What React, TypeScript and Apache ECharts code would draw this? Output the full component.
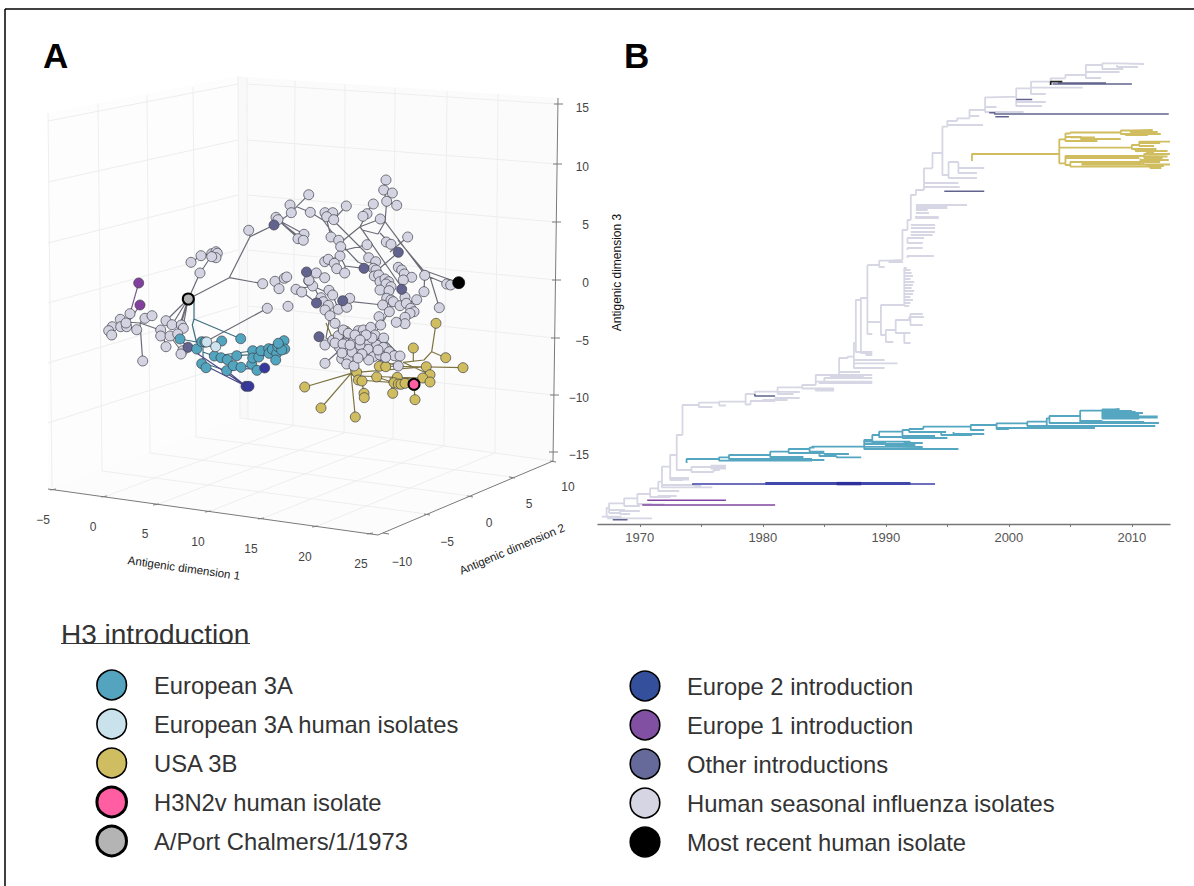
import React, { useEffect, useRef } from "react";
import * as echarts from "echarts";

type P = number[];
const FONT = '"Liberation Sans", Arial, sans-serif';

// ---- Panel A: isolates on the projected picture plane ----
const humanNodes: P[] = [
  [130,313.7],[120.3,319.3],[112.3,326.7],[108.7,330.7],[111.7,335],[120.7,326.7],[126.7,326.7],[126,323],[136.7,329.7],[145,318.3],[152,315.7],[142.7,361],
  [166,320.7],[160.7,330],[160.7,336],[170,336],[172,324.7],[181.3,325],[183.3,328.3],[177.7,334],[166,346.7],[182.7,350.7],[181,354],
  [200,273],[191,262.3],[201,255.7],[211.7,253.7],[216,251.7],[217.3,253.3],[216,257.7],[211.7,256.7],[262.7,283.7],[267.3,308.3],[248.7,230.3],
  [276,217.3],[278,219.7],[290,205],[291.3,212.7],[308.7,194.7],[310.3,212.3],[304,234.3],[298,238.7],[303.3,240.3],
  [316.3,273],[275,281.3],[279,288.7],[284.3,278.3],[286.7,277],[296,289.3],[301.7,292],[308.7,280.7],[312.7,286],[288,306.3],
  [346.3,206],[325,212.7],[332.7,212.7],[326.7,216.7],[333.7,219.7],[331,237],[338.7,240.3],[340.7,246.7],
  [373.3,204],[367,213.7],[363,216.3],[380.3,219],[386,180],[383.7,190],[392.3,193],[386.7,201.3],[396.7,205.3],
  [407.7,237],[386.3,242],[391,244.3],[367,244.7],[340,256],[324.7,261.7],[328.3,259.3],[334.3,263.3],[336.7,268.7],[344.7,273],
  [368.7,257.7],[375.7,261.7],[373.3,268.3],[376,270],[374.3,276],[398.3,267.3],[401.7,270],[404.3,274],[411.7,277.3],[403.3,280],
  [378.7,275],[380,281.7],[385,279],[388.7,281.7],[386,284],[391,286.7],[380,290],[389,290.7],
  [424.7,275.3],[446.7,284],[450.7,285],[424,291.7],[439.3,307.7],
  [386.7,298.3],[391,300],[382.7,305],[393.3,301.7],[400,305.7],[405,297.3],[406.3,303.3],[416.7,299.7],[410.7,308.3],[414,311.7],[410,313.3],[405,317.3],[405,323.7],[396.3,322.3],[389.3,311.7],[379,316.7],[380.7,325],
  [324.7,277.7],[309,280.3],[329,290.3],[332.7,295],[321,297.7],[323.3,301.7],[328.3,305.3],[325,310],[338.3,309.3],[346.7,307.3],[349.7,298.3],[330,315.7],[335,323.3],
  [325,345],[332.7,340.3],[338.3,335.7],[343.3,330],[351.7,338.3],[358.3,330.7],[363.3,330],[370.7,327.3],[375,335],[383.7,338],[367.3,343.3],[376.7,345],[383.3,347.3],[339.3,347.3],[347.3,350.7],[356.7,347.7],[368.3,349.3],
  [341.7,358.7],[348.3,358.3],[373.3,356.7],[368.7,360],[380,355],[389.3,351.7],[394.3,355.7],[400,356],[385.7,357.3],[325,363.3],[346.7,364],[354,366],[398.3,366],[345,343],[353.3,341.7],[361.7,336.7],[348.3,333.3],
  [335,343],[343,344],[352,352],[360,345],[362,354],[358,358],[355,335],[372,338],[342,353],[350,345],[366,335],[360,340],[378,350],
];
const otherNodes: P[] = [[274,225],[306.5,272],[316.5,303],[319,336.7],[398.3,252.3],[364,268.3],[401.7,289.3],[342.7,300.7],[188,347.3]];
const usaNodes: P[] = [
  [346,331.3],[368.3,337.3],[436,323.3],[413.3,348],[445.7,357.7],[463,367.7],[426.3,366.7],[430,374.7],[422.7,378],[430,382],[379.3,366.3],[385.7,366.7],[356.7,372.3],[358.3,380],[362,381],[376.7,377],
  [397.3,377.3],[394,382.7],[398.3,384],[401,384.3],[405,383.3],[392.7,393.3],[415,399.7],[364,393.3],[364.3,397.7],[304.7,387],[321,408],[355.3,417],
];
const euro3aNodes: P[] = [
  [180,339],[196.7,349],[201.7,341.7],[205,342],[221.7,341],[240.7,338.7],[201.7,363.7],[206,367.7],[226.7,370.7],[214.3,356],[221,357.7],[227.3,359.7],[233.3,365.7],[241,367.3],[236.7,355.7],[251.7,364.3],[257,370.3],
  [252.7,350.7],[252.7,358],[258.7,357],[261,350.7],[268.7,348.7],[269,353.3],[272.3,349.3],[276.7,353.3],[277.7,346.7],[280.7,345],[284,340.7],[284.7,349],[281.7,350],[275.7,360],[278.3,343.3],
];
const euro3aHumanNodes: P[] = [[206.7,342],[215.7,346.7]];
const europe2Nodes: P[] = [[264.7,368],[246,386.3],[249,386.3]];
const europe1Nodes: P[] = [[138.7,283],[140,305]];
const portChalmers: P[] = [[188.3,299]];
const mostRecent: P[] = [[458.7,282.7]];
const h3n2v: P[] = [[414,384.3]];

const humanEdges: P[][] = [
  [[188.3,299],[229.3,277.7],[250,236.7],[274,225]],[[250,236.7],[248.7,230.3]],[[229.3,277.7],[262.7,283.7]],[[188.3,299],[200,273],[210,258],[213,254]],[[201,255.7],[191,262.3]],[[201,255.7],[212,254]],
  [[188,299],[166,320.7]],[[188,299],[172,325]],[[188,299],[181,325]],[[188,299],[183,328]],[[188,299],[177,334]],[[267.3,308.3],[205,342]],[[160,330],[170,336],[182,352]],
  [[140,323],[160,330]],[[140,323],[142.7,361]],[[126,322],[140,323],[145,318]],[[145,318],[152,316]],[[130,314],[126,325]],[[120,326],[126,325],[136,330]],[[112,327],[126,325]],[[108.7,330.7],[112,327]],[[111.7,335],[112,327]],[[166,347],[163,335]],[[182,352],[188,347]],
  [[274,225],[279,220]],[[278,220],[298,238]],[[278,220],[304,234]],[[278,220],[303,240]],[[274,225],[291,213]],[[291,213],[290,205]],[[291,213],[296.7,206.7]],[[296.7,206.7],[308.7,194.7]],[[296.7,206.7],[310.3,212.3]],[[310.3,212.3],[323,220],[340,243],[358,262],[376,270]],
  [[333,220],[373,260]],[[325,212.7],[331,237]],[[360,226.7],[400,285]],[[385,221.7],[386.7,201.3]],[[386.7,201.3],[383.7,190]],[[383.7,190],[386,180]],[[386.7,201.3],[392.3,193]],[[386.7,201.3],[396.7,205.3]],
  [[385,221.7],[380.3,219]],[[385,221.7],[425,275],[446.7,284]],[[398,240],[423,270],[458.7,282.7]],[[385,221.7],[378,234],[362,230],[360,226.7],[380.3,219]],[[360,226.7],[340,243],[340,256]],[[333.7,219.7],[346.3,206]],[[367,213.7],[360,226.7]],[[373.3,204],[363,216.3]],
  [[345,250],[367,244.7]],[[380,233],[391,244.3]],[[398.3,252.3],[380,268]],[[407.7,237],[390,252]],[[342.7,300.7],[382.7,305]],[[364,268.3],[345,266]],[[345,266],[344.7,273]],[[340,256],[345,266]],[[340,256],[324.7,261.7]],[[334,263],[336.7,268.7]],
  [[430,277],[439.3,307.7]],[[424.7,275.3],[424,291.7]],[[306.3,272],[312.7,286],[332.7,295],[338.3,309.3]],[[312.7,286],[296,289.3]],[[302,291.7],[316.7,303]],[[312,282],[325,310]],[[325,310],[335,323.3],[345,340]],[[330,315.7],[326,338],[338,345]],[[338,309],[346.7,307.3]],[[342.7,300.7],[349.7,298.3]],
  [[380,281.7],[391,286.7],[386.7,298.3],[382.7,305]],[[391,300],[389.3,311.7],[380.7,325],[370,340]],[[400,305.7],[410.7,308.3]],[[405,317.3],[414,311.7]],[[396.3,322.3],[405,313]],[[400,305.7],[416.7,299.7]],
  [[325,345],[340,335]],[[325,363.3],[340,350]],[[340,335],[370,327]],[[338,345],[385,357]],[[347,350],[398,366]],[[354,366],[360,345]],[[346,364],[352,340]],[[368,360],[378,338]],[[395,355],[370,340]],[[400,356],[383,338]],
];
const euro3aEdges: P[][] = [
  [[194,298],[194,319],[192.3,325],[196.7,343]],[[194,319],[240.7,338.7]],[[180,339],[196.7,342],[205,342]],[[203,347],[203,363]],[[203,347],[221.7,345],[221.7,341]],[[203,352],[214,356],[252,351]],[[203,363],[226.7,370.7]],[[214,356],[241,367]],[[227,360],[257,370]],[[236.7,355.7],[276,353]],[[252,351],[284,341]],[[258,357],[284.7,349]],[[251,364],[252,351]],
];
const usaEdges: P[][] = [
  [[351,373.3],[304.7,387]],[[351,373.3],[321,408]],[[351,373.3],[355.3,417]],[[351,373.3],[358.3,380]],[[346,331.3],[351,373.3]],[[326,323],[332,337]],
  [[356.7,372.3],[426.3,366.7]],[[379,366],[463,367.7]],[[356.7,376],[422.7,378]],[[358.3,380],[405,383.3]],[[403,362.3],[424,360],[431.7,351.7],[436,323.3]],[[431.7,351.7],[445.7,357.7]],[[413.3,348],[413.3,361]],[[403,362.3],[430,374.7]],[[402,362],[379,366]],
  [[362,381],[364,393.3]],[[362,381],[364.3,397.7]],[[414,384.3],[415,399.7]],[[392.7,393.3],[390,377]],[[376.7,377],[398,384]],[[397,377],[430,382]],
];
const europe2Edges: P[][] = [[[188,347.3],[246,386.3]],[[201.7,363.7],[246,386.3]],[[226.7,370.7],[246,386.3]],[[226.7,370.7],[243,369],[264.7,368]],[[180,339],[188,347.3]]];
const europe1Edges: P[][] = [[[138.7,283],[130,313.7]],[[140,305],[130,320]]];

// ---- Panel A: the drawn box, same plane ----
const wallRules: P[][] = [
  [[48,121],[238,84]],[[48,182],[238,140]],[[48,243],[238,195]],[[48,303],[238,250]],[[48,363],[238,306]],[[48,423],[238,362]],
  [[48,113],[52,487]],[[98,103],[102,471]],[[147,95],[150,453]],[[193,87],[196,437]],[[238,77],[240,418]],[[247,78],[248,420]],
  [[247,84],[557,104]],[[247,140],[557,164]],[[247,195],[556,222]],[[247,250],[556,280]],[[247,306],[555,338]],[[247,362],[554,395]],
  [[295,81],[293,426]],[[345,84],[344,433]],[[395,88],[393,439]],[[447,91],[444,446]],[[498,94],[495,453]],
  [[104,497],[293,426]],[[156,505],[344,433]],[[208,512],[393,439]],[[261,519],[444,446]],[[315,527],[495,453]],
  [[427,514],[102,471]],[[470,496],[150,453]],[[512,477],[196,437]],[[240,418],[553,461]],
];
const axisRules: P[][] = [
  [[48,489],[378,535]],[[378,535],[553,461]],[[558,98],[553,461]],
  [[50,490],[56,489]],[[101,497],[107,496]],[[153,505],[159,504]],[[205,512],[211,511]],[[258,519],[264,518]],[[312,527],[318,526]],[[367,534],[373,533]],
  [[383,533],[389,534]],[[424,514],[430,515]],[[467,496],[473,497]],[[509,477],[515,478]],[[550,461],[556,462]],
  [[554,104],[563,104]],[[553,164],[562,164]],[[552,222],[561,222]],[[552,280],[561,280]],[[551,338],[560,338]],[[550,395],[559,395]],[[549,452],[558,452]],
];
const dim1Labels = ["\u22125","0","5","10","15","20","25"];
const dim2Labels = ["\u221210","\u22125","0","5","10"];
const dim3Labels = ["15","10","5","0","\u22125","\u221210","\u221215"];

// ---- Panel B: [parent year, parent rank, rank, end year] ----
const humanTree: P[] = [
  [1966.9,516.7,516.7,1968.5],[1967.4,517,518.3,1971],[1967.3,517,508,1967.5],[1967.5,508,503.3,1968.73],[1967.5,508,510,1968.8],[1967.5,508,513,1968.4],[1968.4,513,511,1970],[1968.4,513,514,1969.2],[1968.73,503.3,506,1970],[1968.73,503.3,498.3,1969.8],
  [1969.8,498.3,504,1971],[1969.8,504,504.5,1972],[1969.8,498.3,494,1970.84],[1970.84,494,488.3,1971.5],[1970.84,494,497,1972.5],[1971.5,497,496,1973],[1971.5,488.3,481.7,1971.8],[1971.5,488.3,491,1973.2],[1971.8,484,487.3,1975.9],[1974.5,485,486,1975],
  [1971.8,481.7,466.7,1972.47],[1971.8,481.7,485,1974.5],[1972.47,466.7,480,1973.5],[1972.47,478,478,1974],[1972.47,479.5,479.5,1974],[1972.47,466.7,455,1973],[1973,455,435,1973.47],[1973,455,470,1974.2],[1974.2,470,467,1976],[1974.2,470,472,1976],
  [1975.8,467,465.7,1977],[1975.8,467,467,1977],[1975.8,467,468.5,1977],[1976,472,470,1976.5],[1973.47,435,405,1973.69],[1973.69,405,405,1974.8],[1974.8,405,407,1975.9],[1974.8,405,402.7,1976.45],[1976.45,402.7,405.5,1977],[1976.45,402.7,401.7,1978.6],[1978.6,401.7,404.5,1979],[1978.6,401.7,394,1979.35],
  [1979.35,394,391.7,1981.2],[1979,404.5,401,1981],[1980,401,400,1982],[1981,401,398,1983],[1981.2,391.7,394,1982.5],[1981.2,391.7,392,1983],[1981.2,391.7,387.3,1983.2],[1983.2,387.3,388.5,1985.8],[1984.3,388,390.5,1985.8],[1983.2,387.3,385,1984.3],[1984.3,385,375,1986.2],
  [1984.3,385,381.7,1988.9],[1985,382,378,1988.9],[1985.5,378,377,1988.2],[1986.2,375,375,1988.9],[1986.2,375,372,1987.9],[1984.6,382,383,1988.9],[1986.2,376,358,1986.9],[1986.9,358,356.7,1987.4],[1987.4,356.7,363.3,1990.95],[1987.4,356.7,368,1989.9],[1987.4,356.7,360,1989.9],
  [1987.4,356.7,343,1987.56],[1987.56,343,352,1988.9],[1988.4,352,355,1988.9],[1987.56,343,300,1987.97],[1987.97,300,298,1988.5],[1987.97,300,353,1988.9],[1988.5,298,265,1988.5],[1988.5,265,265,1989.46],[1988.5,298,334,1988.9],[1989.46,265,267,1989.9],[1989.46,265,260.7,1990.27],[1990.27,260.7,262,1991.4],[1990.27,260.7,260,1991.35],
  [1988.5,298,322,1989.6],[1989.6,322,305,1991.08],[1989.6,322,335,1990],[1990,335,342,1990.6],[1990,335,330,1990.8],[1990.8,330,320,1992],[1990.8,330,333,1992],[1991.5,333,343,1992],[1991.9,320,317,1993.1],[1992,320,314,1993],[1992,320,325,1993],
  [1991.08,305,305,1991.5],[1991.5,305,268,1991.7],[1991.5,270,270,1992],[1991.5,273,273,1992.1],[1991.5,276,276,1992.2],[1991.5,279,279,1992],[1991.5,282,282,1992.3],[1991.5,285,285,1992.2],[1991.5,288,288,1992.1],[1991.5,291,291,1992.3],[1991.5,294,294,1992.2],[1991.5,297,297,1992],[1991.5,300,300,1992.2],[1991.5,303,303,1992],[1991.5,306,306,1991.9],
  [1991.35,260,230,1991.76],[1991.76,258,256,1993.9],[1991.76,250,248,1993],[1991.76,242,238,1993.1],[1991.76,240,243,1993],[1991.76,230,220,1992.03],[1992.03,220,195,1992.44],[1992.03,225,225,1994],[1992.03,228,228,1994],[1992.03,232,232,1994],[1992.03,235,235,1993.8],[1992.44,217,217,1994.3],[1992.44,213,213,1993.5],[1992.44,210,210,1993.4],[1992.44,208,208,1995],[1992.44,206,206,1995],
  [1992.44,195,190,1993.1],[1993.1,190,168.3,1993.79],[1993.79,168.3,153,1994.6],[1994.6,153,126.7,1995],[1995,126.7,121,1995.8],[1994.6,153,175,1995.1],[1995.1,175,178,1997.4],[1995.1,175,162,1995.9],[1995.9,162,168,1996.9],[1996.9,168,168,1998],[1995.9,168,173,1997.4],[1993.1,190,187,1996],[1993.1,185,183,1995.9],[1992.44,205,205,1996.6],[1992.44,208,208,1994.9],[1992.44,216,218,1994.3],
  [1995,126.7,125,1997.9],[1995.8,121,118.3,1996.8],[1996.8,118.3,116,1997.6],[1996.8,118.3,110,1998.07],[1998.07,110,112,2001.2],[1998.07,107,107,1999],[1998.07,110,97.3,1998.45],[1998.45,97.3,96.7,2000.6],[2000.6,96.7,102,2003],[2000.6,96.7,106,2002.7],[2000.6,96.7,88.3,2001.8],[2001.8,88.3,94,2003],[2001.8,88.3,81.7,2003.4],[2001.8,85,87.7,2006],[2003.4,81.7,78.3,2004.6],[2004.6,78.3,75,2006.26],[2006.26,75,78,2007.5],[2006.26,75,65,2007.6],[2007.6,65,63.3,2008.8],[2008.8,63.3,64,2011],[2008.8,65,67,2010.5],[2007.6,65,69,2009.3],[2006.26,72,72,2009],
];
const usaTree: P[] = [
  [1997,161,154,2004.1],[2004.1,154,139.3,2004.6],[2004.6,139.3,133.5,2005],[2005,133.5,132.5,2009.1],[2009.1,132.5,130.5,2010],[2010,130.5,130,2011.7],[2009.9,131,132,2012.1],[2009.1,132.5,134,2012.35],[2009.5,133,135,2011.3],[2004.6,139.3,137,2005.9],[2005,136.5,137.3,2007],[2005.85,137.3,139,2009.1],[2004.6,139.3,141,2007.2],
  [2004.1,154,147.7,2010],[2010,147.7,145,2010.6],[2010.6,145,141.7,2013.1],[2010.6,145,143,2012.3],[2010.6,145,146,2011.8],[2010,147.7,149,2012],[2010.3,149,151,2012.9],[2011.2,150,152.5,2011.8],[2004.1,154,163.3,2004.6],[2004.6,163.3,156,2011],[2004.6,158,158,2010.6],[2005,165,166.7,2011.5],[2005,165,162,2011],[2004.6,163.3,165,2005],
  [2011,156,154,2013.1],[2011,156,156.5,2012.9],[2011,156,158,2012.5],[2010.7,158.5,160,2013],[2010.7,160,162,2012.3],[2010.9,162,164.5,2013.1],[2011.2,164,166,2012.6],[2011.5,166.7,168,2012.4],[2005.9,163,163,2010.8],[2005.9,164.5,164.5,2011],
];
const euro3aTree: P[] = [
  [1973.8,463,459,1976.45],[1976.45,459,457.3,1977.25],[1976.45,459,460.7,1984],[1977.25,457.3,455,1980.6],[1977.25,457.3,459,1983.5],[1980.6,455,451.7,1982.1],[1980.6,455,457,1983.3],[1982.1,451.7,449,1983.8],[1982.1,451.7,453,1985],[1983.8,449,447.7,1984.2],[1983.8,449,451.7,1985],[1984,447.7,446.7,1988.24],[1984.6,452,456,1986],[1985,453,454,1987],[1986,456,457.3,1988],[1982.5,459,459,1984],[1982.5,459,460,1985],
  [1988.24,446.7,440,1988.9],[1988.9,440,435,1989.45],[1988.9,440,443,1990],[1989.45,435,437,1991.3],[1989.45,435,431.7,1991.35],[1991.35,431.7,436,1991.4],[1991.35,431.7,430,1991.9],[1991.9,430,429,1993.05],[1991.9,430,432,1994.9],[1993.05,429,426.7,1996.9],[1991.35,435,436,1994],[1991.35,436,438,1995],[1994.5,432,435,1997],[1995.5,432,434,1998],[1996.9,426.7,430,1998],
  [1988.24,446.7,441.7,1992],[1988.24,446.7,444,1991.5],[1988.24,446.7,447,1993],[1988.24,446.7,449,1995.9],[1990,447,445,1992.4],[1993,449,449,1995],[1991.5,444,443,1993],
  [1996.9,426.7,425,1999],[1999,425,423.3,2001.5],[1999,425,429,2000],[1999,425,428,2007],[2001.5,423.3,421.7,2003.08],[2001.5,423.3,426,2011.9],[2003.08,421.7,418.3,2003.3],[2003.08,421.7,426,2005],[2003.3,418.3,416,2005.8],[2003.3,418.3,423,2012.2],[2005.8,416,421,2007.6],[2005.8,416,410.7,2007.6],[2005.8,416,423,2007.5],
  [2007.6,410.7,409.3,2008.56],[2007.6,410.7,417.5,2012.1],[2008.56,409.3,409,2009],[2007.6,410.7,411,2010],[2007.6,410.7,412,2010.3],[2007.6,410.7,413,2010.9],[2007.6,410.7,414,2010.5],[2007.6,410.7,415,2010.6],[2007.6,410.7,416.5,2012.1],[2007.6,410.7,418.5,2010.6],[2007.6,421,422,2011],
];
const europe2Thin: P[] = [[1974.25,484,484,1994]];
const europe2Thick: P[] = [[1980.2,483.6,483.6,1992]];
const europe2Dark: P[] = [[1986,483.6,483.6,1988]];
const europe1Tree: P[] = [[1970.6,500.3,500.3,1977],[1970.2,505,505,1981]];
const otherTree: P[] = [[1967.8,519.7,519.7,1969],[1979.35,394,396,1981],[1994.75,191.3,191.3,1998],[1998.8,114,114,2013],[1998.9,116.7,116.7,2000],[1998.4,112.7,112.7,1998.9],[2000.6,99.5,99.5,2001.9],[2003.55,84,84,2010],[2004,83,83,2007.9]];
const blackTree: P[] = [[2003.4,85,81.7,2004.35]];
const yearLabels = [1970,1980,1990,2000,2010];
const yearTicks = [1970,1975,1980,1985,1990,1995,2000,2005,2010];

// ---- Legend ----
const legendLeft = ["European 3A","European 3A human isolates","USA 3B","H3N2v human isolate","A/Port Chalmers/1/1973"];
const legendRight = ["Europe 2 introduction","Europe 1 introduction","Other introductions","Human seasonal influenza isolates","Most recent human isolate"];
const legendLeftColors = ["#54a4bf","#c9e2ec","#cfbd62","#ff5fa2","#b4b4b4"];
const legendRightColors = ["#34509c","#8150a3","#666a9a","#d5d5e3","#000000"];

const edgeData = (lines: P[][]) => { const out: any[] = []; lines.forEach((l) => { l.forEach((p) => out.push(p)); out.push(["-","-"]); }); return out; };
const treeData = (rows: P[]) => { const out: any[] = []; rows.forEach(([py, pr, r, ey]) => { out.push([py, pr],[py, r],[ey, r],["-","-"]); }); return out; };

export default function App() {
  const ref = useRef<HTMLDivElement>(null);
  useEffect(() => {
    const chart = echarts.init(ref.current!, undefined, { renderer: "svg" });
    const edge = (name: string, lines: P[][], color: string, width = 1.2, z = 3) => ({ name, type: "line", xAxisIndex: 0, yAxisIndex: 0, data: edgeData(lines), symbol: "none", connectNulls: false, clip: false, silent: true, z, lineStyle: { color, width } });
    const nodes = (name: string, d: P[], color: string, size = 10, bw = 0.7, bc = "#3c3c46", z = 5) => ({ name, type: "scatter", xAxisIndex: 0, yAxisIndex: 0, data: d, symbolSize: size, clip: false, silent: true, z, itemStyle: { color, borderColor: bc, borderWidth: bw, opacity: 1 } });
    const tree = (name: string, rows: P[], color: string, width = 1.8, z = 3) => ({ name, type: "line", xAxisIndex: 1, yAxisIndex: 1, data: treeData(rows), symbol: "none", connectNulls: false, silent: true, z, lineStyle: { color, width } });
    const txt = (text: string, x: number, y: number, size: number, fill: string, extra: any = {}) => ({ type: "text", x, y, silent: true, ...extra, style: { text, fill, font: `${extra.weight || "normal"} ${size}px ${FONT}`, textAlign: extra.align || "left", textVerticalAlign: "middle" } });
    const poly = (points: number[][], fill: string) => ({ type: "polygon", silent: true, shape: { points }, style: { fill } });
    const dim1Pos = [[43,520],[93,527],[145,534],[198,542],[251,549],[305,557],[361,564]];
    const dim2Pos = [[402,562],[447,542],[489,523],[529,504],[568,487]];
    const dim3Y = [108,167,225,283,341,398,455];
    const graphics: any[] = [
      poly([[48,113],[238,76],[240,418],[48,489]],"#fdfdfd"),
      poly([[238,76],[247,77],[248,420],[240,418]],"#f9f9f9"),
      poly([[247,77],[557,98],[553,461],[248,420]],"#fbfbfb"),
      poly([[48,489],[240,418],[553,461],[378,535]],"#fcfcfc"),
      { type: "line", silent: true, shape: { x1: 5, y1: 9, x2: 1194, y2: 9 }, style: { stroke: "#000", lineWidth: 1.5 } },
      { type: "line", silent: true, shape: { x1: 5, y1: 9, x2: 5, y2: 886 }, style: { stroke: "#000", lineWidth: 1.5 } },
      txt("A", 43, 55, 35, "#000", { weight: "bold" }),
      txt("B", 624, 55, 35, "#000", { weight: "bold" }),
      txt("Antigenic dimension 1", 184, 568, 11.6, "#1a1a1a", { align: "center", rotation: -0.14 }),
      txt("Antigenic dimension 2", 512, 549, 11.6, "#1a1a1a", { align: "center", rotation: 0.4 }),
      txt("Antigenic dimension 3", 617, 272.5, 12, "#111", { align: "center", rotation: Math.PI / 2 }),
      txt("H3 introduction", 61, 634, 28, "#333"),
      { type: "line", silent: true, shape: { x1: 61, y1: 643.5, x2: 250, y2: 643.5 }, style: { stroke: "#333", lineWidth: 1.2 } },
    ];
    dim1Labels.forEach((t, i) => graphics.push(txt(t, dim1Pos[i][0], dim1Pos[i][1], 12, "#444", { align: "center" })));
    dim2Labels.forEach((t, i) => graphics.push(txt(t, dim2Pos[i][0], dim2Pos[i][1], 12, "#444", { align: "center" })));
    dim3Labels.forEach((t, i) => graphics.push(txt(t, 589, dim3Y[i], 12, "#444", { align: "right" })));
    const rowY = [685, 724, 763, 802, 841];
    legendLeft.forEach((t, i) => {
      graphics.push({ type: "circle", silent: true, shape: { cx: 111.7, cy: rowY[i], r: 14.8 }, style: { fill: legendLeftColors[i], stroke: "#000", lineWidth: i >= 3 ? 3 : 1.6 } });
      graphics.push(txt(t, 154, rowY[i], 23.8, "#333"));
    });
    legendRight.forEach((t, i) => {
      graphics.push({ type: "circle", silent: true, shape: { cx: 645, cy: rowY[i] + 1, r: 14.8 }, style: { fill: legendRightColors[i], stroke: "#000", lineWidth: 1.6 } });
      graphics.push(txt(t, 687, rowY[i] + 1, 23.8, "#333"));
    });

    chart.setOption({
      animation: false,
      backgroundColor: "#ffffff",
      textStyle: { fontFamily: FONT },
      graphic: { elements: graphics },
      grid: [
        { left: 0, top: 0, width: 1194, height: 886 },
        { left: 598, top: 50, width: 572, height: 474 },
      ],
      xAxis: [
        { type: "value", gridIndex: 0, min: 0, max: 1194, show: false },
        {
          type: "value", gridIndex: 1, min: 1966.6, max: 2013.1,
          splitLine: { show: false },
          axisLine: { show: true, lineStyle: { color: "#777777", width: 1.4 } },
          axisTick: { show: true, length: 3, inside: false, customValues: yearTicks, lineStyle: { color: "#777777", width: 1 } },
          axisLabel: { customValues: yearLabels, margin: 7, fontSize: 13, color: "#555555", fontFamily: FONT, formatter: (v: number) => String(v) },
        },
      ],
      yAxis: [
        { type: "value", gridIndex: 0, min: 0, max: 886, inverse: true, show: false },
        { type: "value", gridIndex: 1, min: 50, max: 524, inverse: true, show: false },
      ],
      series: [
        edge("wall rules", wallRules, "#eeeeee", 1, 1),
        edge("box axes", axisRules, "#7a7a7a", 1, 2),
        edge("human edges", humanEdges, "#6c6c78"),
        edge("European 3A edges", euro3aEdges, "#3f6f80"),
        edge("USA 3B edges", usaEdges, "#7d7440"),
        edge("Europe 2 edges", europe2Edges, "#4a4a8a"),
        edge("Europe 1 edges", europe1Edges, "#7a5a90"),
        nodes("USA 3B", usaNodes, "#cfbd5f"),
        nodes("Human seasonal influenza isolates", humanNodes, "#d3d3e2"),
        nodes("Other introductions", otherNodes, "#62648f"),
        nodes("European 3A", euro3aNodes, "#52a5bf"),
        nodes("European 3A human isolates", euro3aHumanNodes, "#cde4ee"),
        nodes("Europe 2 introduction", europe2Nodes, "#37389f"),
        nodes("Europe 1 introduction", europe1Nodes, "#833f9e"),
        nodes("A/Port Chalmers/1/1973", portChalmers, "#b4b4b4", 11, 2, "#000000", 6),
        nodes("H3N2v human isolate", h3n2v, "#ff5fa2", 11, 2, "#000000", 6),
        nodes("Most recent human isolate", mostRecent, "#000000", 12, 0.7, "#000000", 6),
        tree("human tree", humanTree, "#d6d6e4"),
        tree("USA 3B tree", usaTree, "#cfbd5f"),
        tree("European 3A tree", euro3aTree, "#55a6c0"),
        tree("Europe 2 tree", europe2Thin, "#3c3fa6", 1.6, 4),
        tree("Europe 2 tree thick", europe2Thick, "#4048ab", 3, 4),
        tree("Europe 2 tree dark", europe2Dark, "#2f2f9c", 3.4, 5),
        tree("Europe 1 tree", europe1Tree, "#81449f", 1.6, 4),
        tree("Other tree", otherTree, "#62648f", 1.6, 4),
        tree("Black tree", blackTree, "#222222", 1.8, 5),
      ],
    });
    return () => chart.dispose();
  }, []);
  return <div ref={ref} style={{ position: "absolute", left: 0, top: 0, width: 1194, height: 886 }} />;
}
